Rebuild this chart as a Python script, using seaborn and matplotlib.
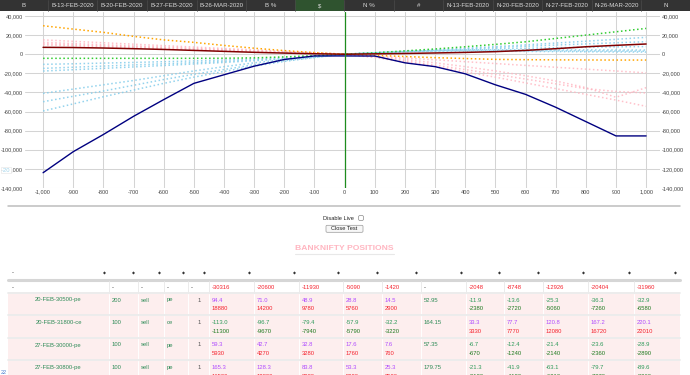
import matplotlib
matplotlib.use("Agg")
import matplotlib.pyplot as plt
import seaborn as sns
from matplotlib.patches import Rectangle, FancyBboxPatch

# ---------------- data ----------------
x_points = [-1000, -900, -800, -700, -600, -500, -400, -300, -200, -100, 0,
            100, 200, 300, 400, 500, 600, 700, 800, 900, 1000]

total_pnl = [-124000, -102000, -84000, -65000, -47500, -30500, -21500, -12500, -5500, -1800, -1800,
             -1900, -9000, -13000, -20500, -32000, -42000, -55500, -70500, -85500, -85500]
expiry_pnl = [7200, 7000, 6500, 5800, 5000, 4000, 3000, 2000, 1200, 500, 0,
              400, 800, 1300, 1900, 2700, 4000, 5800, 7800, 9300, 10700]
orange_leg = [29800, 26300, 22900, 18700, 15000, 12400, 9200, 6300, 3800, 1700, 0,
              -1200, -2400, -3600, -4500, -5400, -5700, -5900, -6000, -6100, -6100]
green_leg = [-4300, -4300, -4300, -4300, -4300, -4300, -4200, -3800, -2800, -1500, 0,
             1500, 3500, 5500, 7800, 10300, 13000, 16500, 20000, 23500, 27000]
blue_legs = [
    [-10600, -10000, -9300, -8600, -7800, -7000, -6000, -4800, -3400, -1800, 0,
     1500, 3000, 4600, 6300, 8000, 9800, 11700, 13600, 15600, 17700],
    [-14800, -13600, -12400, -11200, -10000, -8800, -7500, -6000, -4300, -2300, 0,
     1400, 2800, 4200, 5600, 7000, 8300, 9600, 10800, 12000, 13100],
    [-17600, -16200, -14800, -13300, -11800, -10200, -8600, -6800, -4800, -2500, 0,
     1300, 2600, 3800, 4800, 5600, 6200, 6800, 7300, 7700, 8000],
    [-41000, -36500, -32000, -27500, -22500, -17500, -13000, -9000, -5500, -2500, 0,
     1500, 3000, 4000, 4500, 4600, 4600, 4500, 4500, 4400, 4400],
    [-49700, -44000, -38500, -32500, -26500, -21000, -16000, -11000, -6800, -3200, 0,
     1500, 2800, 3600, 3800, 3700, 3600, 3500, 3400, 3300, 3200],
    [-59400, -52000, -44500, -37500, -30500, -24000, -18000, -12500, -7500, -3500, 0,
     1400, 2600, 3200, 3300, 3200, 3000, 2800, 2600, 2400, 2300],
]
pink_legs = [
    [15000, 13500, 12000, 10500, 9000, 7500, 6000, 4500, 3000, 1500, 0,
     -1950, -3900, -5850, -7800, -9750, -11700, -13650, -15600, -17550, -19500],
    [12500, 11200, 10000, 8700, 7500, 6200, 5000, 3700, 2500, 1200, 0,
     -2500, -5500, -9000, -13000, -17500, -22500, -28000, -35000, -45000, -35000],
    [9800, 8800, 7800, 6800, 5900, 4900, 3900, 2900, 1900, 1000, 0,
     -3000, -7000, -11500, -16000, -21000, -26000, -31000, -36000, -39000, -40500],
    [11000, 9900, 8800, 7700, 6600, 5500, 4400, 3300, 2200, 1100, 0,
     -3500, -8000, -13000, -18500, -24000, -30000, -36000, -42000, -48000, -54500],
]

x_ticks = [-1000, -900, -800, -700, -600, -500, -400, -300, -200, -100, 0,
           100, 200, 300, 400, 500, 600, 700, 800, 900, 1000]
y_ticks = [-140000, -120000, -100000, -80000, -60000, -40000, -20000, 0, 20000, 40000]

header_labels = ["B", "B-13-FEB-2020", "B-20-FEB-2020", "B-27-FEB-2020", "B-26-MAR-2020", "B %", "$",
                 "N %", "#", "N-13-FEB-2020", "N-20-FEB-2020", "N-27-FEB-2020", "N-26-MAR-2020", "N"]

option_names = ["20-FEB-30500-pe", "20-FEB-31800-ce", "27-FEB-30000-pe", "27-FEB-30800-pe"]
quantities = ["200", "100", "100", "100"]
sides = ["sell", "sell", "sell", "sell"]
opt_types = ["pe", "ce", "pe", "pe"]
lots = ["1", "1", "1", "1"]
b_prices = [[94.4, 71.0, 48.9, 28.8, 14.5], [-113.0, -96.7, -79.4, -57.9, -32.2],
            [59.3, 42.7, 32.8, 17.6, 7.6], [165.3, 128.3, 83.8, 53.3, 25.3]]
b_pnl = [[18880, 14200, 9780, 5760, 2900], [-11300, -9670, -7940, -5790, -3220],
         [5930, 4270, 3280, 1760, 760], [16530, 12830, 8380, 5330, 2530]]
ltp = [52.95, 164.15, 57.35, 179.75]
n_prices = [[-11.9, -13.6, -25.3, -36.3, -32.9], [33.3, 77.7, 120.8, 167.2, 220.1],
            [-6.7, -12.4, -21.4, -23.6, -28.9], [-21.3, -41.9, -63.1, -79.7, -89.6]]
n_pnl = [[-2380, -2720, -5060, -7260, -6580], [3330, 7770, 12080, 16720, 22010],
         [-670, -1240, -2140, -2360, -2890], [-2130, -4190, -6310, -7970, -8960]]
totals_b = [-30316, -20600, -11930, -5090, -1420]
totals_n = [-2048, -8748, -12926, -20404, -31960]

# ---------------- figure ----------------
sns.set_style("white")
plt.rcParams['font.family'] = ['Liberation Sans', 'DejaVu Sans']

W, H = 690, 375
fig = plt.figure(figsize=(6.9, 3.75), dpi=100)

# payoff chart
ax = fig.add_axes([25 / W, 1 - 188 / H, 635 / W, 176 / H])
ax.set_zorder(1)

for leg in blue_legs:
    sns.lineplot(x=x_points, y=leg, ax=ax, color="#87CEEB", linestyle=":", linewidth=1.1, alpha=0.9)
for leg in pink_legs:
    sns.lineplot(x=x_points, y=leg, ax=ax, color="#FFB6C1", linestyle=":", linewidth=1.1, alpha=0.85)
sns.lineplot(x=x_points, y=green_leg, ax=ax, color="#32CD32", linestyle=":", linewidth=1.1)
sns.lineplot(x=x_points, y=orange_leg, ax=ax, color="#FFA500", linestyle=":", linewidth=1.1)
sns.lineplot(x=x_points, y=expiry_pnl, ax=ax, color="#800000", linewidth=1.1)
sns.lineplot(x=x_points, y=total_pnl, ax=ax, color="#000080", linewidth=1.0)
ax.axvline(0, color="#1e8c1e", linewidth=0.9, zorder=3)

ax.set_xlim(-1060, 1046)
ax.set_ylim(-140000, 44186)
ax.set_xticks(x_ticks)
ax.set_xticklabels([f"{v:,}" for v in x_ticks])
ax.set_yticks(y_ticks)
ax.set_yticklabels([f"{v:,}" for v in y_ticks])
ax.grid(True, color="#d4d4d4", linewidth=0.75)
ax.set_axisbelow(True)
for s in ax.spines.values():
    s.set_visible(False)
ax.tick_params(axis="both", length=0, labelsize=4, labelcolor="#444444")
ax.tick_params(axis="x", pad=1.2)
ax.tick_params(axis="y", pad=1.5, labelright=True)
ax.set_xlabel("")
ax.set_ylabel("")

# overlay in pixel coordinates
ov = fig.add_axes([0, 0, 1, 1])
ov.set_xlim(0, W)
ov.set_ylim(H, 0)
ov.axis("off")
ov.set_zorder(3)
ov.patch.set_alpha(0)

# header bar
hx = [0, 48, 97, 147, 197, 246, 295, 344, 394, 443, 493, 542, 592, 641, 690]
for i, lab in enumerate(header_labels):
    fc = "#2f532f" if lab == "$" else "#333333"
    ov.add_patch(Rectangle((hx[i], 0), hx[i + 1] - hx[i], 10.5, facecolor=fc, edgecolor="none"))
    if i > 0:
        ov.plot([hx[i], hx[i]], [0, 10.5], color="#4a4a4a", lw=0.5)
    ov.text((hx[i] + hx[i + 1]) / 2, 5.6, lab, ha="center", va="center", fontsize=4.4, color="#d8d8d8")

# small overlay widgets near the chart
fig.text(2 / W, 1 - 170 / H, "-20", fontsize=4.2, color="#9fd3ea", va="center",
         bbox=dict(facecolor="white", edgecolor="#e4e4e4", pad=0.6, linewidth=0.4))
ov.text(1, 372, "22", fontsize=4, color="#4a7fd0", va="center")

ov.plot([8, 680], [206, 206], color="#bdbdbd", lw=1.1)
ov.text(338, 218, "Disable Live", ha="center", va="center", fontsize=4.1, color="#222222")
ov.add_patch(FancyBboxPatch((358.5, 215.5), 5, 5, boxstyle="round,pad=0,rounding_size=1.5",
                            facecolor="white", edgecolor="#8a8a8a", lw=0.5))
ov.add_patch(FancyBboxPatch((326, 225.3), 37, 7, boxstyle="round,pad=0,rounding_size=1.2",
                            facecolor="#f7f7f7", edgecolor="#9a9a9a", lw=0.5))
ov.text(344.5, 229, "Close Test", ha="center", va="center", fontsize=4.1, color="#222222")
ov.text(344, 248, "BANKNIFTY POSITIONS", ha="center", va="center", fontsize=6.1,
        fontweight="bold", color="#ffb6c1")
ov.plot([295, 394], [253.5, 253.5], color="#e8e8e8", lw=0.8)

# positions table
cols = [8, 109, 138, 164, 188, 209, 254, 299, 343, 382, 421, 466, 504, 543, 588, 634, 680]
ov.text(12, 273, "-", fontsize=4.2, color="#222222", va="center")
for c in range(1, 17):
    ov.text(cols[c] - 4.5, 273.3, "◆", fontsize=2.8, color="#333333", ha="center", va="center")
ov.plot([8, 680], [279.5, 279.5], color="#d6d6d6", lw=2.2)

red = "#f5222d"
purple = "#b04dff"
green1 = "#2e9a5a"
green2 = "#1f7a1f"
teal = "#2e8b57"

# totals row
for c in range(1, 16):
    ov.plot([cols[c], cols[c]], [281, 293], color="#e8e8e8", lw=0.6)
ov.text(12, 287.3, "-", fontsize=4.2, color="#222222", va="center")
for c in range(1, 5):
    ov.text(cols[c] + 3, 287.3, "-", fontsize=4.2, color="#222222", va="center")
for k, v in enumerate(totals_b):
    ov.text(cols[5 + k] + 3, 287.3, str(v), fontsize=4.2, color=red, va="center")
ov.text(cols[10] + 3, 287.3, "-", fontsize=4.2, color="#222222", va="center")
for k, v in enumerate(totals_n):
    ov.text(cols[11 + k] + 3, 287.3, str(v), fontsize=4.2, color=red, va="center")


def price_cell(xc, yt, p, pnl):
    ov.text(xc, yt + 6.5, f"{p:.1f}", fontsize=4.2, va="center",
            color=purple if p > 0 else green1)
    ov.text(xc, yt + 15.2, str(pnl), fontsize=4.2, va="center",
            color=red if pnl > 0 else green2)


row_tops = [293.5, 316, 338.5, 361]
for r, yt in enumerate(row_tops):
    ov.add_patch(Rectangle((8, yt), 672, 21, facecolor="#fdeeee", edgecolor="none"))
    ov.plot([8, 680], [yt - 0.8, yt - 0.8], color="#ebebeb", lw=1.3)
    for c in range(1, 16):
        ov.plot([cols[c], cols[c]], [yt, yt + 21], color="white", lw=0.7)
    ov.text(58.5, yt + 6.5, option_names[r], fontsize=4.2, color=teal, ha="center", va="center")
    ov.text(cols[1] + 3, yt + 6.5, quantities[r], fontsize=4.2, color=teal, va="center")
    ov.text(cols[2] + 3, yt + 6.5, sides[r], fontsize=4.2, color=teal, va="center")
    ov.text(cols[3] + 3, yt + 6.5, opt_types[r], fontsize=4.2, color=teal, va="center")
    ov.text(199, yt + 6.5, lots[r], fontsize=4.2, color="#555555", ha="center", va="center")
    for k in range(5):
        price_cell(cols[5 + k] + 3, yt, b_prices[r][k], b_pnl[r][k])
    ov.text(cols[10] + 3, yt + 6.5, f"{ltp[r]:.2f}", fontsize=4.2, color=teal, va="center")
    for k in range(5):
        price_cell(cols[11 + k] + 3, yt, n_prices[r][k], n_pnl[r][k])

fig.savefig("out.png", dpi=100)
